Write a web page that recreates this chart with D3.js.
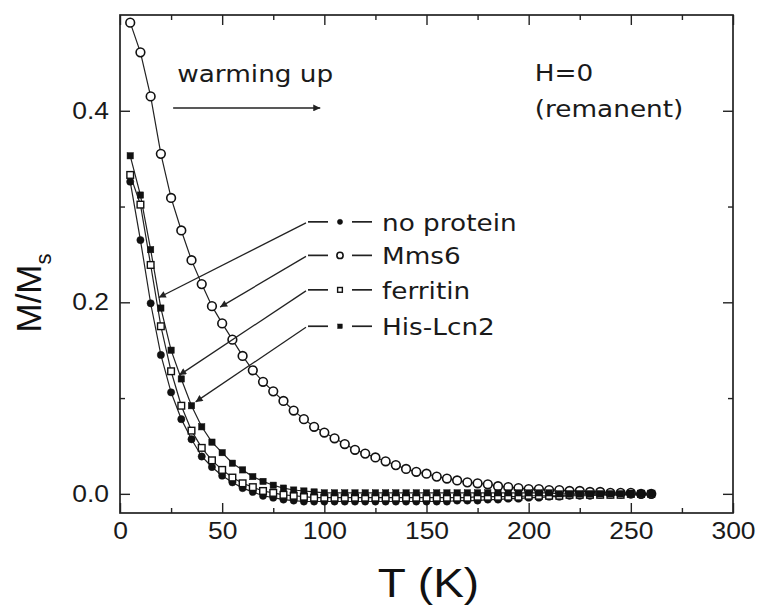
<!DOCTYPE html>
<html>
<head>
<meta charset="utf-8">
<script src="https://cdn.jsdelivr.net/npm/d3@7"></script>
<style>
  body { margin: 0; background: #fff; }
  svg { display: block; }
  .tick text { font-family: "Liberation Sans", Arial, sans-serif; font-size: 23px; fill: #1a1a1a; }
  .note { font-family: "DejaVu Sans", Verdana, sans-serif; font-size: 23.5px; fill: #1a1a1a; }
  .title { font-family: "Liberation Sans", Arial, sans-serif; font-size: 40px; fill: #111; }
</style>
</head>
<body>
<svg id="chart"></svg>
<script>
const svgWidth = 760;
const svgHeight = 609;

// temperature points (K)
const temps = [5, 10, 15, 20, 25, 30, 35, 40, 45, 50, 55, 60, 65, 70, 75, 80, 85, 90, 95, 100,
  105, 110, 115, 120, 125, 130, 135, 140, 145, 150, 155, 160, 165, 170, 175, 180, 185, 190, 195, 200,
  205, 210, 215, 220, 225, 230, 235, 240, 245, 250, 255, 260];

// M/Ms
const noProtein = [0.326, 0.265, 0.199, 0.145, 0.106, 0.078, 0.057, 0.039, 0.028, 0.019,
  0.012, 0.006, 0.002, -0.002, -0.004, -0.006, -0.007, -0.008, -0.008, -0.008,
  -0.008, -0.008, -0.008, -0.008, -0.008, -0.008, -0.008, -0.008, -0.008, -0.008,
  -0.008, -0.008, -0.007, -0.007, -0.007, -0.006, -0.006, -0.005, -0.005, -0.004,
  -0.004, -0.003, -0.003, -0.002, -0.002, -0.002, -0.001, -0.001, -0.001, -0.001, -0.001, -0.001];

const mms6 = [0.492, 0.461, 0.415, 0.355, 0.309, 0.275, 0.244, 0.219, 0.196, 0.178,
  0.161, 0.144, 0.129, 0.117, 0.107, 0.097, 0.087, 0.078, 0.070, 0.064,
  0.058, 0.052, 0.046, 0.042, 0.038, 0.034, 0.030, 0.026, 0.023, 0.021,
  0.018, 0.016, 0.014, 0.012, 0.011, 0.010, 0.008, 0.007, 0.006, 0.005,
  0.005, 0.004, 0.004, 0.003, 0.003, 0.002, 0.002, 0.001, 0.001, 0.001, 0.000, 0.000];

const ferritin = [0.333, 0.302, 0.239, 0.175, 0.128, 0.092, 0.066, 0.048, 0.035, 0.025,
  0.017, 0.011, 0.007, 0.003, 0.001, -0.001, -0.002, -0.003, -0.004, -0.004,
  -0.004, -0.004, -0.004, -0.004, -0.004, -0.004, -0.004, -0.004, -0.004, -0.004,
  -0.004, -0.004, -0.004, -0.004, -0.003, -0.003, -0.003, -0.003, -0.003, -0.002,
  -0.002, -0.002, -0.002, -0.001, -0.001, -0.001, -0.001, -0.001, -0.001, 0.000, 0.000, 0.000];

const hisLcn2 = [0.353, 0.312, 0.255, 0.194, 0.150, 0.120, 0.092, 0.070, 0.054, 0.043,
  0.032, 0.025, 0.018, 0.013, 0.009, 0.006, 0.004, 0.003, 0.002, 0.001,
  0.001, 0.001, 0.001, 0.001, 0.001, 0.001, 0.001, 0.001, 0.001, 0.001,
  0.001, 0.001, 0.001, 0.001, 0.001, 0.001, 0.001, 0.001, 0.001, 0.001,
  0.001, 0.001, 0.000, 0.000, 0.000, 0.000, 0.000, 0.000, 0.000, 0.000, 0.000, 0.000];

const seriesNames = ["no protein", "Mms6", "ferritin", "His-Lcn2"];
const seriesValues = [noProtein, mms6, ferritin, hisLcn2];
const seriesSymbols = ["filledCircle", "openCircle", "openSquare", "filledSquare"];
// where each legend leader points, in data units [T, M/Ms]
const leaderTips = [[19, 0.205], [49, 0.195], [29, 0.124], [37, 0.096]];

const xTicks = [0, 50, 100, 150, 200, 250, 300];
const xMinor = [25, 75, 125, 175, 225, 275];
const yTicks = [0.0, 0.2, 0.4];
const yMinor = [0.1, 0.3];

const margin = { top: 15, right: 27, bottom: 96, left: 120 };
const width = svgWidth - margin.left - margin.right;
const height = svgHeight - margin.top - margin.bottom;
const stretch = 1.15; // text in the picture is a little wide

const svg = d3.select("#chart")
  .attr("width", svgWidth)
  .attr("height", svgHeight);

const g = svg.append("g")
  .attr("transform", `translate(${margin.left},${margin.top})`);

const x = d3.scaleLinear().domain([0, 300]).range([0, width]);
const y = d3.scaleLinear().domain([-0.02, 0.5]).range([height, 0]);

// axes, ticks pointing inward
function drawAxis(axis, transform, labels) {
  const a = g.append("g").attr("transform", transform).call(axis);
  a.select(".domain").remove();
  a.selectAll("line").attr("stroke", "#222").attr("stroke-width", 1.4);
  if (!labels) a.selectAll("text").remove();
  return a;
}
const xb = drawAxis(d3.axisBottom(x).tickValues(xTicks).tickSize(-10).tickPadding(10).tickFormat(d3.format("d")),
  `translate(0,${height})`, true);
drawAxis(d3.axisBottom(x).tickValues(xMinor).tickSize(-5), `translate(0,${height})`, false);
drawAxis(d3.axisTop(x).tickValues(xTicks).tickSize(-10), "translate(0,0)", false);
drawAxis(d3.axisTop(x).tickValues(xMinor).tickSize(-5), "translate(0,0)", false);
const yl = drawAxis(d3.axisLeft(y).tickValues(yTicks).tickSize(-10).tickPadding(11).tickFormat(d3.format(".1f")),
  "translate(0,0)", true);
drawAxis(d3.axisLeft(y).tickValues(yMinor).tickSize(-5), "translate(0,0)", false);
drawAxis(d3.axisRight(y).tickValues(yTicks).tickSize(-10), `translate(${width},0)`, false);
drawAxis(d3.axisRight(y).tickValues(yMinor).tickSize(-5), `translate(${width},0)`, false);

xb.selectAll("text").attr("transform", `scale(${stretch},1)`);
yl.selectAll("text").attr("x", -11 / stretch).attr("transform", `scale(${stretch},1)`);

g.append("rect")
  .attr("width", width)
  .attr("height", height)
  .attr("fill", "none")
  .attr("stroke", "#222")
  .attr("stroke-width", 1.7);

// arrowhead marker
svg.append("defs").append("marker")
  .attr("id", "head")
  .attr("viewBox", "0 0 10 10")
  .attr("refX", 10).attr("refY", 5)
  .attr("markerWidth", 10).attr("markerHeight", 7)
  .attr("markerUnits", "userSpaceOnUse")
  .attr("orient", "auto")
  .append("path")
  .attr("d", "M0,0L10,5L0,10z")
  .attr("fill", "#222");

function drawSymbol(sel, kind, size) {
  if (kind === "filledCircle" || kind === "openCircle") {
    sel.append("circle")
      .attr("r", kind === "openCircle" ? size * 0.62 : size * 0.52)
      .attr("fill", kind === "openCircle" ? "#fff" : "#111")
      .attr("stroke", "#111")
      .attr("stroke-width", kind === "openCircle" ? 1.6 : 0.5);
  } else {
    const s = kind === "openSquare" ? size * 0.95 : size * 0.9;
    sel.append("rect")
      .attr("x", -s / 2).attr("y", -s / 2)
      .attr("width", s).attr("height", s)
      .attr("fill", kind === "openSquare" ? "#fff" : "#111")
      .attr("stroke", "#111")
      .attr("stroke-width", kind === "openSquare" ? 1.4 : 0.5);
  }
}

const line = d3.line()
  .x((d, i) => x(temps[i]))
  .y(d => y(d));

// connecting lines
seriesValues.forEach(vals => {
  g.append("path")
    .datum(vals)
    .attr("d", line)
    .attr("fill", "none")
    .attr("stroke", "#222")
    .attr("stroke-width", 1.2);
});

// markers
seriesValues.forEach((vals, k) => {
  g.append("g").selectAll("g")
    .data(vals)
    .enter().append("g")
    .attr("transform", (d, i) => `translate(${x(temps[i])},${y(d)})`)
    .each(function() { drawSymbol(d3.select(this), seriesSymbols[k], 7); });
});

function note(px, py, str) {
  g.append("text")
    .attr("class", "note")
    .attr("transform", `translate(${px},${py}) scale(${1.12},1)`)
    .text(str);
}

// "warming up" arrow
note(x(28), y(0.43), "warming up");
g.append("line")
  .attr("x1", x(26)).attr("y1", y(0.403))
  .attr("x2", x(98)).attr("y2", y(0.403))
  .attr("stroke", "#222")
  .attr("stroke-width", 1.5)
  .attr("marker-end", "url(#head)");

// H=0 note
note(x(203), y(0.431), "H=0");
note(x(203), y(0.394), "(remanent)");

// legend with leader lines
const legX = x(92);
const legRowY = [y(0.284), y(0.249), y(0.213), y(0.175)];
seriesNames.forEach((name, k) => {
  const ly = legRowY[k];
  const tip = leaderTips[k];
  g.append("line")
    .attr("x1", legX - 2).attr("y1", ly + 1)
    .attr("x2", x(tip[0])).attr("y2", y(tip[1]))
    .attr("stroke", "#222")
    .attr("stroke-width", 1.3)
    .attr("marker-end", "url(#head)");
  g.append("line")
    .attr("x1", legX).attr("x2", legX + 20)
    .attr("y1", ly).attr("y2", ly)
    .attr("stroke", "#222").attr("stroke-width", 1.7);
  g.append("line")
    .attr("x1", legX + 44).attr("x2", legX + 64)
    .attr("y1", ly).attr("y2", ly)
    .attr("stroke", "#222").attr("stroke-width", 1.7);
  drawSymbol(g.append("g").attr("transform", `translate(${legX + 32},${ly})`), seriesSymbols[k], 5);
  note(legX + 74, ly + 9, name);
});

// axis titles
svg.append("text")
  .attr("class", "title")
  .attr("transform", `translate(${margin.left + width / 2 + 2},597) scale(${stretch},1)`)
  .attr("text-anchor", "middle")
  .text("T (K)");

const yt = svg.append("text")
  .attr("class", "title")
  .style("font-size", "35px")
  .attr("transform", `translate(41,${margin.top + 278}) rotate(-90)`)
  .attr("text-anchor", "middle");
yt.append("tspan").text("M/M");
yt.append("tspan").attr("dy", 10).style("font-size", "22px").text("s");
</script>
</body>
</html>
